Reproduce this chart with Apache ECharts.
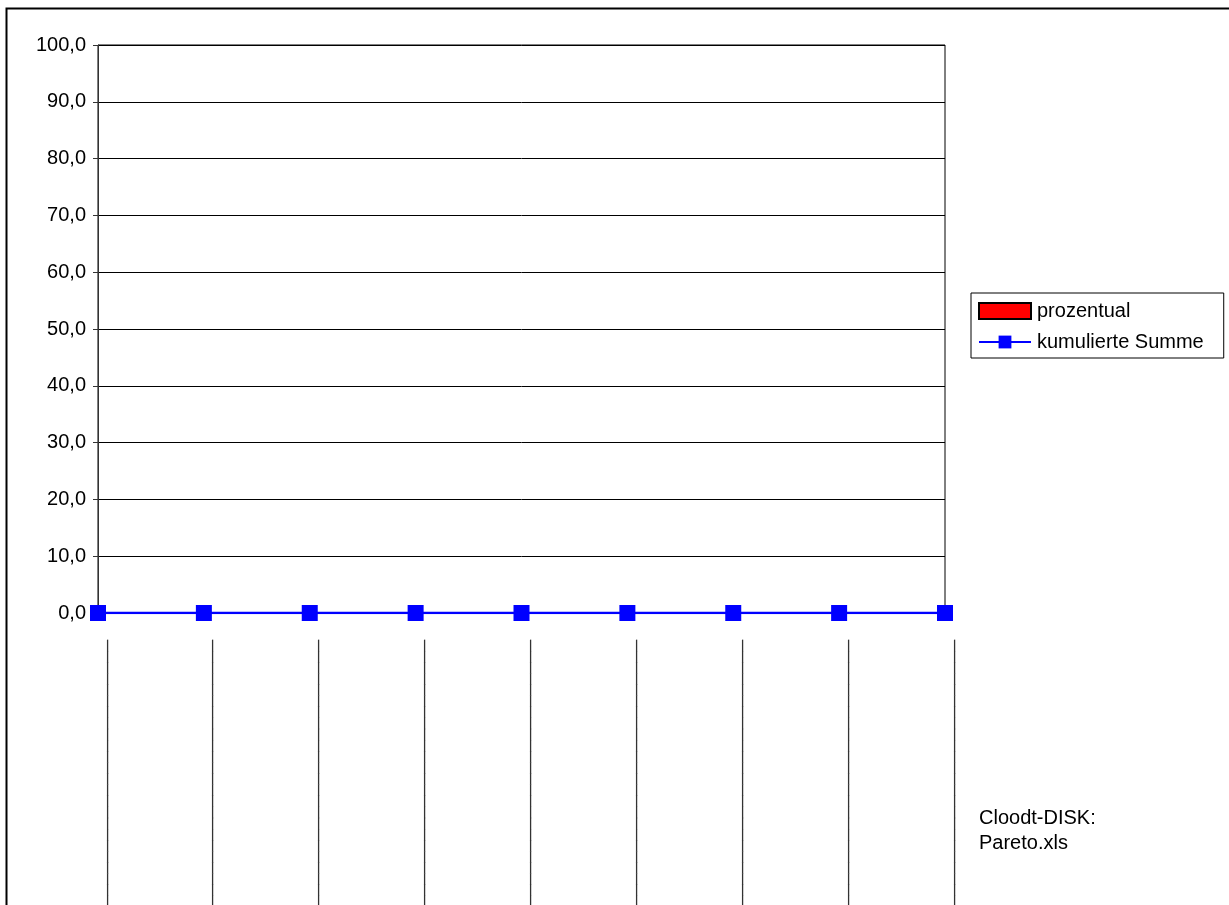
<!DOCTYPE html>
<html>
<head>
<meta charset="utf-8">
<script src="https://cdn.jsdelivr.net/npm/echarts@6/dist/echarts.min.js"></script>
<style>
html,body{margin:0;padding:0;background:#fff;}
#chart{width:1229px;height:905px;}
</style>
</head>
<body>
<div id="chart"></div>
<script>
const categories = [
  '__________________________',
  '__________________________',
  '__________________________',
  '__________________________',
  '__________________________',
  '__________________________',
  '__________________________',
  '__________________________',
  '__________________________'
];
const prozentual = [0, 0, 0, 0, 0, 0, 0, 0, 0];
const kumulierteSumme = [0, 0, 0, 0, 0, 0, 0, 0, 0];
const yTicks = { min: 0, max: 100, interval: 10 };
const footnote = 'Cloodt-DISK:\nPareto.xls';

const chart = echarts.init(document.getElementById('chart'), null, { renderer: 'canvas' });
const font = 'Liberation Sans, Arial, sans-serif';
chart.setOption({
  animation: false,
  backgroundColor: '#fff',
  textStyle: { fontFamily: font },
  grid: {
    left: 98, right: 1229 - 945, top: 45, bottom: 905 - 613,
    show: true, borderColor: '#000', borderWidth: 1,
    containLabel: false, outerBoundsMode: 'none'
  },
  xAxis: {
    type: 'category',
    data: categories,
    boundaryGap: false,
    axisLine: { show: true, lineStyle: { color: '#000' } },
    axisTick: { show: false },
    splitLine: { show: false },
    axisLabel: {
      rotate: 90, interval: 0, margin: 27, fontSize: 20, color: '#333',
      fontFamily: font
    }
  },
  yAxis: {
    type: 'value',
    min: yTicks.min, max: yTicks.max, interval: yTicks.interval,
    axisLine: { show: true, lineStyle: { color: '#333', width: 1 } },
    axisTick: { show: true, length: 5, lineStyle: { color: '#333' } },
    splitLine: { show: true, lineStyle: { color: '#000', width: 1 } },
    axisLabel: {
      margin: 12, fontSize: 20, color: '#000', fontFamily: font,
      formatter: v => v.toFixed(1).replace('.', ',')
    }
  },
  legend: {
    orient: 'vertical',
    left: 971, top: 293,
    width: 253,
    padding: [8, 20, 6, 7],
    itemGap: 11,
    itemWidth: 52, itemHeight: 16,
    borderColor: '#000', borderWidth: 1,
    textStyle: { fontSize: 20, color: '#000', fontFamily: font, padding: [0, 0, 0, 1] },
    data: [
      { name: 'prozentual', icon: 'rect', itemStyle: { color: '#ff0000', borderColor: '#000', borderWidth: 2 } },
      { name: 'kumulierte Summe' }
    ]
  },
  graphic: [
    {
      type: 'rect', silent: true,
      shape: { x: 6.5, y: 8.5, width: 1300, height: 1000 },
      style: { fill: 'none', stroke: '#000', lineWidth: 2 }
    },
    {
      type: 'text', left: 979, top: 806,
      style: { text: footnote, fontSize: 20, lineHeight: 25, fill: '#000', fontFamily: font }
    }
  ],
  series: [
    {
      name: 'prozentual',
      type: 'bar',
      data: prozentual,
      barWidth: 40,
      itemStyle: { color: '#ff0000', borderWidth: 0 }
    },
    {
      name: 'kumulierte Summe',
      type: 'line',
      data: kumulierteSumme,
      symbol: 'rect',
      symbolSize: 16,
      lineStyle: { color: '#0000ff', width: 2.5 },
      itemStyle: { color: '#0000ff' },
      z: 5
    }
  ]
});
</script>
</body>
</html>
